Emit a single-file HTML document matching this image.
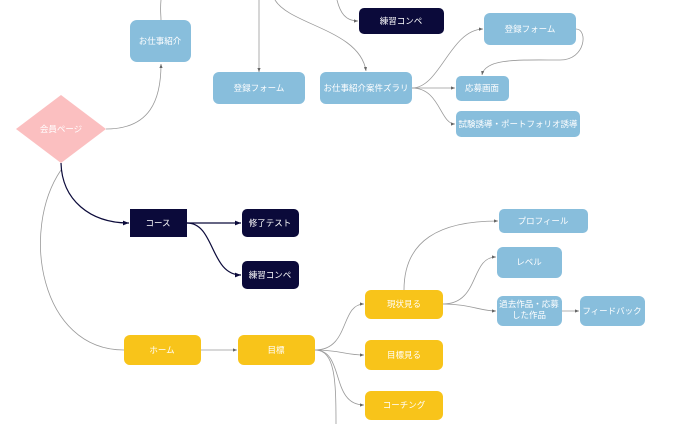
<!DOCTYPE html>
<html><head><meta charset="utf-8"><style>
body{margin:0;background:#fff;}
svg{display:block;}
text{font-family:"Liberation Sans","Noto Sans CJK JP",sans-serif;font-size:8.5px;fill:#fff;text-anchor:middle;dominant-baseline:central;}
</style></head><body>
<svg width="688" height="424" viewBox="0 0 688 424">
<defs>
<marker id="ag" markerWidth="6" markerHeight="6" refX="5" refY="3" orient="auto"><path d="M0,1 L5,3 L0,5z" fill="#666"/></marker>
<marker id="ad" markerWidth="6" markerHeight="6" refX="5" refY="3" orient="auto"><path d="M0,1 L5,3 L0,5z" fill="#0b0a3a"/></marker>
</defs>
<g fill="none" stroke="#999" stroke-width="0.8">
<path d="M161,0 C160,10 161,15 161,20"/>
<path d="M259,0 L259,72" marker-end="url(#ag)"/>
<path d="M337,0 C340,12 345,21 358,21" marker-end="url(#ag)"/>
<path d="M275,0 C290,25 360,30 366,71" marker-end="url(#ag)"/>
<path d="M106,129 C150,129 161,100 161,64" marker-end="url(#ag)"/>
<path d="M61,170 C20,230 40,350 124,350"/>
<path d="M412,88 C440,88 450,30 483,29" marker-end="url(#ag)"/>
<path d="M412,88 L455,88" marker-end="url(#ag)"/>
<path d="M412,88 C440,88 440,124 455,124" marker-end="url(#ag)"/>
<path d="M576,29 C588,29 586,60 560,60 C520,60 485,58 482,75" marker-end="url(#ag)"/>
<path d="M201,350 L237,350" marker-end="url(#ag)"/>
<path d="M315,350 C350,350 340,304 364,304" marker-end="url(#ag)"/>
<path d="M315,350 C340,350 345,355 364,355" marker-end="url(#ag)"/>
<path d="M315,350 C345,350 330,405 364,405" marker-end="url(#ag)"/>
<path d="M315,350 C335,350 336,380 336,424"/>
<path d="M404,290 C404,240 440,221 498,221" marker-end="url(#ag)"/>
<path d="M443,304 C480,304 470,257 496,257" marker-end="url(#ag)"/>
<path d="M443,304 C470,304 480,311 496,311" marker-end="url(#ag)"/>
<path d="M562,311 L579,311" marker-end="url(#ag)"/>
</g>
<g fill="none" stroke="#0b0a3a" stroke-width="1.2">
<path d="M61,163 C62,200 90,223 129,223" marker-end="url(#ad)"/>
<path d="M187,223 L241,223" marker-end="url(#ad)"/>
<path d="M187,223 C215,223 210,275 241,275" marker-end="url(#ad)"/>
</g>
<polygon points="61,95 106,129 61,163 16,129" fill="#fbbfc0"/>
<text x="61" y="129">会員ページ</text>
<g fill="#88bedc">
<rect x="130" y="20" width="61" height="42" rx="7"/>
<rect x="213" y="72" width="92" height="32" rx="6"/>
<rect x="320" y="72" width="92" height="32" rx="6"/>
<rect x="484" y="13" width="92" height="32" rx="6"/>
<rect x="456" y="76" width="53" height="25" rx="5"/>
<rect x="456" y="111" width="124" height="26" rx="5"/>
<rect x="499" y="209" width="89" height="24" rx="5"/>
<rect x="497" y="247" width="65" height="31" rx="6"/>
<rect x="497" y="296" width="65" height="30" rx="6"/>
<rect x="580" y="296" width="65" height="30" rx="6"/>
</g>
<g fill="#0b0a3a">
<rect x="359" y="8" width="85" height="26" rx="5"/>
<rect x="130" y="209" width="57" height="28"/>
<rect x="242" y="209" width="57" height="28" rx="5"/>
<rect x="242" y="261" width="57" height="28" rx="5"/>
</g>
<g fill="#f8c41a">
<rect x="124" y="335" width="77" height="30" rx="6"/>
<rect x="238" y="335" width="77" height="30" rx="6"/>
<rect x="365" y="290" width="78" height="29" rx="6"/>
<rect x="365" y="340" width="78" height="30" rx="6"/>
<rect x="365" y="391" width="78" height="29" rx="6"/>
</g>
<text x="160" y="41">お仕事紹介</text>
<text x="259" y="88">登録フォーム</text>
<text x="366" y="88">お仕事紹介案件ズラリ</text>
<text x="401" y="21">練習コンペ</text>
<text x="530" y="29">登録フォーム</text>
<text x="482" y="88">応募画面</text>
<text x="518" y="124">試験誘導・ポートフォリオ誘導</text>
<text x="158" y="223">コース</text>
<text x="270" y="223">修了テスト</text>
<text x="270" y="275">練習コンペ</text>
<text x="162" y="350">ホーム</text>
<text x="276" y="350">目標</text>
<text x="404" y="304">現状見る</text>
<text x="404" y="355">目標見る</text>
<text x="404" y="405">コーチング</text>
<text x="543" y="221">プロフィール</text>
<text x="529" y="262">レベル</text>
<text x="529" y="304">過去作品・応募</text>
<text x="529" y="315">した作品</text>
<text x="612" y="311">フィードバック</text>
</svg>
</body></html>
